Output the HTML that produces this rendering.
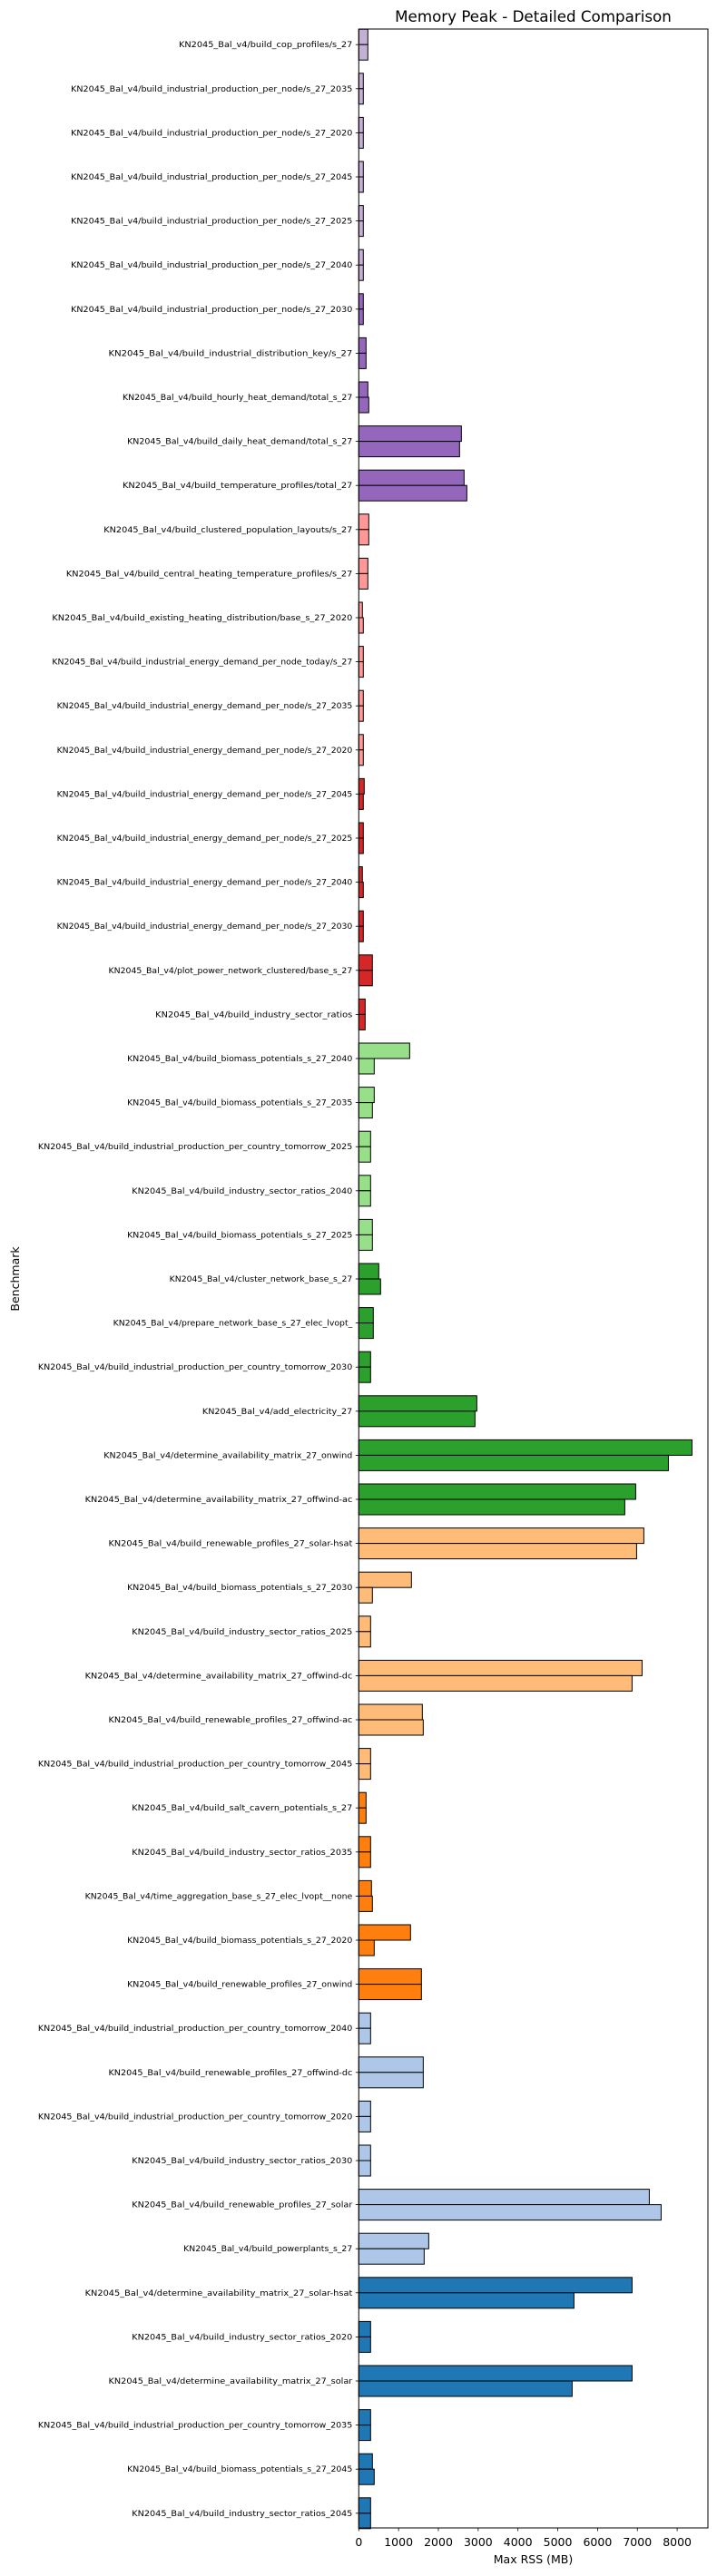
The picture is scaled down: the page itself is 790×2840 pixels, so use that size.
<!DOCTYPE html>
<html><head><meta charset="utf-8"><style>body{margin:0;background:#fff}svg{display:block}text{font-family:"DejaVu Sans","Liberation Sans",sans-serif}</style></head>
<body>
<svg id="chart" width="790" height="2840" xmlns="http://www.w3.org/2000/svg">
<text x="587.5" y="24" text-anchor="middle" font-size="16.7">Memory Peak - Detailed Comparison</text>
<text transform="translate(21,1410) rotate(-90)" text-anchor="middle" font-size="12.5">Benchmark</text>
<text x="587.5" y="2826" text-anchor="middle" font-size="12.5">Max RSS (MB)</text>
<g id="bars"></g>
<g id="yticks"></g>
<g id="xticks"></g>
<rect x="395.3" y="32" width="384.7" height="2755" fill="none" stroke="#000" stroke-width="1"/>
</svg>
<script>
const categories = ["build_cop_profiles/s_27","build_industrial_production_per_node/s_27_2035","build_industrial_production_per_node/s_27_2020","build_industrial_production_per_node/s_27_2045","build_industrial_production_per_node/s_27_2025","build_industrial_production_per_node/s_27_2040","build_industrial_production_per_node/s_27_2030","build_industrial_distribution_key/s_27","build_hourly_heat_demand/total_s_27","build_daily_heat_demand/total_s_27","build_temperature_profiles/total_27","build_clustered_population_layouts/s_27","build_central_heating_temperature_profiles/s_27","build_existing_heating_distribution/base_s_27_2020","build_industrial_energy_demand_per_node_today/s_27","build_industrial_energy_demand_per_node/s_27_2035","build_industrial_energy_demand_per_node/s_27_2020","build_industrial_energy_demand_per_node/s_27_2045","build_industrial_energy_demand_per_node/s_27_2025","build_industrial_energy_demand_per_node/s_27_2040","build_industrial_energy_demand_per_node/s_27_2030","plot_power_network_clustered/base_s_27","build_industry_sector_ratios","build_biomass_potentials_s_27_2040","build_biomass_potentials_s_27_2035","build_industrial_production_per_country_tomorrow_2025","build_industry_sector_ratios_2040","build_biomass_potentials_s_27_2025","cluster_network_base_s_27","prepare_network_base_s_27_elec_lvopt_","build_industrial_production_per_country_tomorrow_2030","add_electricity_27","determine_availability_matrix_27_onwind","determine_availability_matrix_27_offwind-ac","build_renewable_profiles_27_solar-hsat","build_biomass_potentials_s_27_2030","build_industry_sector_ratios_2025","determine_availability_matrix_27_offwind-dc","build_renewable_profiles_27_offwind-ac","build_industrial_production_per_country_tomorrow_2045","build_salt_cavern_potentials_s_27","build_industry_sector_ratios_2035","time_aggregation_base_s_27_elec_lvopt__none","build_biomass_potentials_s_27_2020","build_renewable_profiles_27_onwind","build_industrial_production_per_country_tomorrow_2040","build_renewable_profiles_27_offwind-dc","build_industrial_production_per_country_tomorrow_2020","build_industry_sector_ratios_2030","build_renewable_profiles_27_solar","build_powerplants_s_27","determine_availability_matrix_27_solar-hsat","build_industry_sector_ratios_2020","determine_availability_matrix_27_solar","build_industrial_production_per_country_tomorrow_2035","build_biomass_potentials_s_27_2045","build_industry_sector_ratios_2045"];
const seriesA = [228,114,114,114,114,114,114,183,228,2578,2646,251,228,91,114,114,114,137,114,91,114,342,160,1278,388,297,297,342,502,365,297,2966,8373,6958,7163,1323,297,7118,1597,297,183,297,319,1300,1574,297,1620,297,297,7300,1757,6867,297,6867,297,342,297];
const seriesB = [228,114,114,114,114,114,114,183,251,2532,2715,251,228,114,114,114,114,114,114,114,114,342,160,388,342,297,297,342,548,365,297,2920,7780,6684,6981,342,297,6867,1620,297,183,297,342,388,1574,297,1620,297,297,7597,1643,5407,297,5361,297,388,297];
const colorGroup = [0,0,0,0,0,0,1,1,1,1,1,2,2,2,2,2,2,3,3,3,3,3,3,4,4,4,4,4,5,5,5,5,5,5,6,6,6,6,6,6,7,7,7,7,7,8,8,8,8,8,8,9,9,9,9,9,9];
const xTicks = [0,1000,2000,3000,4000,5000,6000,7000,8000];
const palette = ["#c5b0d5","#9467bd","#ff9896","#d62728","#98df8a","#2ca02c","#ffbb78","#ff7f0e","#aec7e8","#1f77b4"];
const NS="http://www.w3.org/2000/svg";
const X0=395.3, PXPER=0.04385, Y0=49.2, STEP=48.6, BH=17;
const xs=v=>X0+v*PXPER, ys=i=>Y0+i*STEP;
const bars=document.getElementById('bars'), yt=document.getElementById('yticks'), xt=document.getElementById('xticks');
function mk(tag,attrs){const e=document.createElementNS(NS,tag);for(const k in attrs)e.setAttribute(k,attrs[k]);return e;}
categories.forEach((c,i)=>{
  const y=ys(i), col=palette[colorGroup[i]];
  const a=mk('rect',{x:X0,y:y-BH,width:xs(seriesA[i])-X0,height:BH,fill:col,stroke:'#000','stroke-width':1});
  
  
  bars.appendChild(a);
  const b=mk('rect',{x:X0,y:y,width:xs(seriesB[i])-X0,height:BH,fill:col,stroke:'#000','stroke-width':1});
  
  
  bars.appendChild(b);
  const t=mk('line',{x1:X0-3.5,x2:X0,y1:y,y2:y,stroke:'#000','stroke-width':0.8});
  
  
  yt.appendChild(t);
  const txt='KN2045_Bal_v4/'+c;
  const l=mk('text',{x:X0-7,y:y+3,'text-anchor':'end','font-size':8.6,textLength:(txt.length*5.17).toFixed(1),lengthAdjust:'spacingAndGlyphs'});
  
  
  l.textContent=txt;
  yt.appendChild(l);
});
xTicks.forEach(v=>{
  const x=xs(v);
  const t=mk('line',{x1:x,x2:x,y1:2787,y2:2790.5,stroke:'#000','stroke-width':0.8});
  
  
  xt.appendChild(t);
  const l=mk('text',{x:x,y:2807,'text-anchor':'middle','font-size':12.5});
  
  
  l.textContent=String(v);
  xt.appendChild(l);
});
</script>
</body></html>
